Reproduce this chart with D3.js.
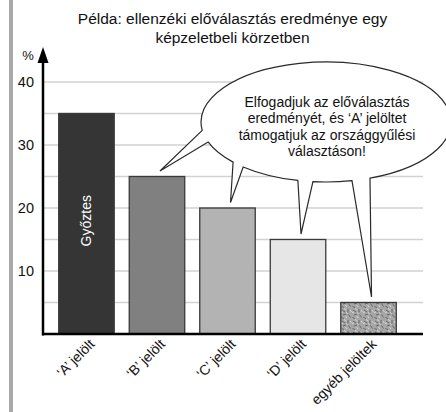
<!DOCTYPE html>
<html>
<head>
<meta charset="utf-8">
<script src="https://cdn.jsdelivr.net/npm/d3@7"></script>
<style>
  html, body { margin: 0; padding: 0; background: #fff; }
  svg { display: block; font-family: "Liberation Sans", Arial, sans-serif; }
</style>
</head>
<body>
<svg id="chart" width="446" height="412"></svg>
<script>
// ---- data ----
const categories = ["\u2018A\u2019 jelölt", "\u2018B\u2019 jelölt", "\u2018C\u2019 jelölt", "\u2018D\u2019 jelölt", "egyéb jelöltek"];
const values = [35, 25, 20, 15, 5];
const yTicks = [10, 20, 30, 40];
const gridValues = [5, 10, 15, 20, 25, 30, 35, 40];
const titleLines = ["Példa: ellenzéki előválasztás eredménye egy", "képzeletbeli körzetben"];
const bubbleLines = ["Elfogadjuk az előválasztás", "eredményét, és \u2018A\u2019 jelöltet", "támogatjuk az országgyűlési", "választáson!"];
const winnerLabel = "Győztes";
const unitLabel = "%";
const bubbleTargets = ["\u2018B\u2019 jelölt", "\u2018C\u2019 jelölt", "\u2018D\u2019 jelölt", "egyéb jelöltek"];

// ---- styles ----
const barFills = ["#353535", "#808080", "#b3b3b3", "#e6e6e6", "url(#speckle)"];

const svg = d3.select("#chart");

// left grey strip
svg.append("rect").attr("x", 9).attr("y", 0).attr("width", 4).attr("height", 412).attr("fill", "#a9a9a9");

// pattern
const defs = svg.append("defs");
const pat = defs.append("pattern").attr("id", "speckle").attr("patternUnits", "userSpaceOnUse")
  .attr("width", 11).attr("height", 11);
pat.append("rect").attr("width", 11).attr("height", 11).attr("fill", "#a6a6a6");
const darkSegs = [[1,2,4,4],[7,1,7,4.5],[2,7,5,6],[7.5,6.5,9.5,9.5],[0.5,9.5,3,10.5]];
const lightSegs = [[3,0.5,5.5,2],[0,4.5,2,4],[9,2,10.5,4],[4.5,8,6,10],[5,4.5,6.5,5.5]];
darkSegs.forEach(s => pat.append("line").attr("x1", s[0]).attr("y1", s[1]).attr("x2", s[2]).attr("y2", s[3])
  .attr("stroke", "#555").attr("stroke-width", 0.8));
lightSegs.forEach(s => pat.append("line").attr("x1", s[0]).attr("y1", s[1]).attr("x2", s[2]).attr("y2", s[3])
  .attr("stroke", "#e2e2e2").attr("stroke-width", 0.8));

// scales
const x = d3.scaleBand().domain(categories).range([43, 412]).paddingInner(0.213).paddingOuter(0.223);
const y = d3.scaleLinear().domain([0, 40]).range([334, 82]);

// title
svg.append("g").selectAll("text").data(titleLines).join("text")
  .attr("x", 232.5).attr("y", (d, i) => 24 + i * 19)
  .attr("text-anchor", "middle").attr("font-size", "15.5px").attr("fill", "#111")
  .text(d => d);

// gridlines
svg.append("g").selectAll("line").data(gridValues).join("line")
  .attr("x1", 44).attr("x2", 423)
  .attr("y1", d => y(d)).attr("y2", d => y(d))
  .attr("stroke", "#d2d2d2").attr("stroke-width", 1.5);

// bars
svg.append("g").selectAll("rect").data(values).join("rect")
  .attr("x", (d, i) => x(categories[i]))
  .attr("y", d => y(d))
  .attr("width", x.bandwidth())
  .attr("height", d => y(0) - y(d))
  .attr("fill", (d, i) => barFills[i])
  .attr("stroke", "#3a3a3a").attr("stroke-width", 1.3);

// winner label
const cxA = x(categories[0]) + x.bandwidth() / 2;
const midA = (y(values[0]) + y(0)) / 2 - 3;
svg.append("text")
  .attr("transform", `translate(${cxA + 5},${midA}) rotate(-90)`)
  .attr("text-anchor", "middle").attr("font-size", "14px").attr("fill", "#fff")
  .text(winnerLabel);

// y axis labels
const yAxis = d3.axisLeft(y).tickValues(yTicks).tickSize(0).tickPadding(9).tickFormat(d3.format("d"));
const gy = svg.append("g").attr("transform", "translate(43,0)").call(yAxis);
gy.select(".domain").remove();
gy.selectAll("text").attr("font-size", "14.5px").attr("fill", "#111").attr("font-family", "Liberation Sans, Arial, sans-serif");

// vertical axis with arrow
svg.append("line").attr("x1", 43).attr("x2", 43).attr("y1", 335.5).attr("y2", 60)
  .attr("stroke", "#000").attr("stroke-width", 2.5);
svg.append("path").attr("d", "M43,47 L37.5,63 L48.5,63 Z").attr("fill", "#000");
svg.append("text").attr("x", 28).attr("y", 60).attr("text-anchor", "middle")
  .attr("font-size", "13px").attr("fill", "#111").text(unitLabel);

// baseline
svg.append("line").attr("x1", 42).attr("x2", 423).attr("y1", y(0)).attr("y2", y(0))
  .attr("stroke", "#000").attr("stroke-width", 2.6);

// x labels
svg.append("g").selectAll("text").data(categories).join("text")
  .attr("transform", d => `translate(${x(d) + x.bandwidth() / 2 + 9},${345}) rotate(-45)`)
  .attr("text-anchor", "end").attr("font-size", "14px").attr("fill", "#111")
  .text(d => d);

// speech bubble
const bcx = 326, bcy = 122, brx = 125, bry = 60;
const rad = a => a * Math.PI / 180;
const pt = a => [bcx + brx * Math.cos(rad(a)), bcy + bry * Math.sin(rad(a))];
const tailBases = [[69.4, 78], [96, 103], [131.5, 138], [160.6, 172]]; // for targets from right to left
const tips = bubbleTargets.slice().reverse().map(c => {
  const i = categories.indexOf(c);
  return [x(c) + x.bandwidth() / 2 + 3, y(values[i]) - 5.5];
});
function arcTo(a0, a1) {
  const p = pt(a1);
  const large = (a1 - a0) > 180 ? 1 : 0;
  return `A${brx},${bry} 0 ${large} 1 ${p[0].toFixed(2)},${p[1].toFixed(2)}`;
}
let start = tailBases[3][1];
let p0 = pt(start);
let d = `M${p0[0].toFixed(2)},${p0[1].toFixed(2)} `;
d += arcTo(start, 360 + tailBases[0][0]) + " ";
tailBases.forEach((tb, k) => {
  const tip = tips[k];
  d += `L${tip[0].toFixed(2)},${tip[1].toFixed(2)} `;
  const pe = pt(tb[1]);
  if (k < 3) {
    d += `L${pe[0].toFixed(2)},${pe[1].toFixed(2)} `;
    d += arcTo(tb[1], tailBases[k + 1][0]) + " ";
  }
});
d += "Z";
svg.append("path").attr("d", d).attr("fill", "#fff").attr("stroke", "#2a2a2a").attr("stroke-width", 1.2)
  .attr("stroke-linejoin", "miter");

svg.append("g").selectAll("text").data(bubbleLines).join("text")
  .attr("x", 327).attr("y", (d, i) => 106.5 + i * 16.5)
  .attr("text-anchor", "middle").attr("font-size", "14px").attr("fill", "#111")
  .text(d => d);
</script>
</body>
</html>
